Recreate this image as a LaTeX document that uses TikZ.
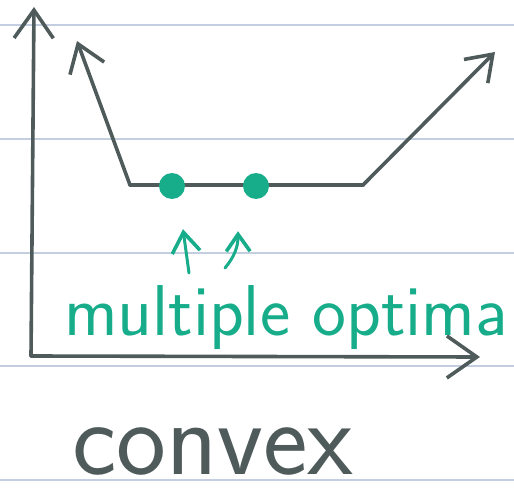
\documentclass[tikz,border=0pt]{standalone}
\usepackage{tikz}
\usetikzlibrary{
  positioning,
  arrows.meta,
  calc
}
\usepackage{xcolor}
\definecolor{pen}{HTML}{4F5B5A}
\definecolor{mint}{HTML}{17AD8A}
\definecolor{ruled}{HTML}{C3CEE0}

\begin{document}
\begin{tikzpicture}[
  x=1pt, y=-1pt,
  ink/.style={line width=3.6pt, draw=pen, line cap=round, line join=round},
  hint/.style={line width=3pt, draw=mint, line cap=round, line join=round},
  barb/.style={-{Straight Barb[length=#1, width=1.4*#1, line width=3.6pt]}},
  blob/.style={circle, fill=mint, inner sep=0pt, minimum size=26pt},
  scrawl/.style={inner sep=0pt, font=\sffamily}
]
  \useasboundingbox (0,0) rectangle (514,500);
  % ruled paper
  \foreach \ry in {25,139,253,366,480}
    \draw[ruled, line width=1.5pt] (0,\ry) -- (514,\ry);

  % axes
  \coordinate (origin) at (31,356);
  \coordinate (ytip) at (34,7);
  \coordinate (xtip) at (480,357);
  \draw[ink, barb=28pt] (origin) -- (ytip);
  \draw[ink, barb=30pt] (origin) -- (xtip);

  % the flat-bottomed curve
  \coordinate (lefttip) at (77,41);
  \coordinate (floorL) at (130,185);
  \coordinate (floorR) at (363,185);
  \coordinate (righttip) at (495,52);
  \draw[ink, barb=26pt] (floorL) -- (lefttip);
  \draw[ink] (floorL) -- (floorR);
  \draw[ink, barb=24pt] (floorR) -- (righttip);

  % optima on the floor
  \node[blob] (optA) at (172,186) {};
  \node[blob] (optB) at (256,186) {};

  % labels
  \node[scrawl, text=mint, anchor=base, font=\sffamily\fontsize{72}{72}\selectfont]
    (optima) at (286,335) {multiple optima};
  \node[scrawl, text=pen, anchor=base, font=\sffamily\fontsize{106}{106}\selectfont]
    (convex) at (213,474) {convex};

  % pointers from label to optima
  \coordinate (hintA) at (189,273);
  \coordinate (hintB) at (225,268);
  \draw[hint, barb=20pt] (hintA) -- ($(optA.south)+(11,30)$);
  \draw[hint, barb=17pt] (hintB) to[bend right=20] ($(optB.south)+(-18,32)$);
\end{tikzpicture}
\end{document}
